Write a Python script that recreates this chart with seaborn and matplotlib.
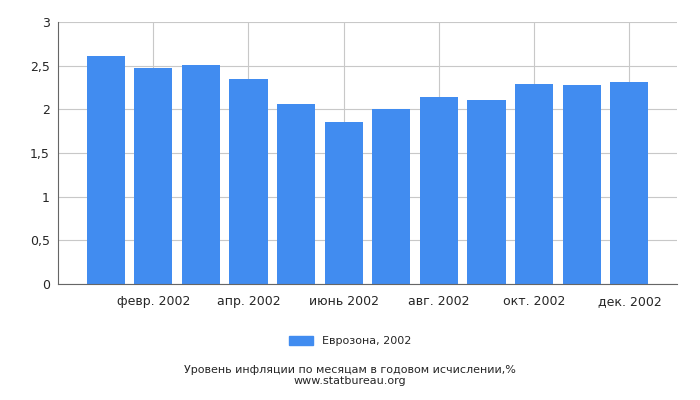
import matplotlib
matplotlib.use("Agg")
import matplotlib.pyplot as plt
import seaborn as sns
import pandas as pd

months = ["янв. 2002","февр. 2002","март 2002","апр. 2002","май 2002","июнь 2002",
          "июль 2002","авг. 2002","сент. 2002","окт. 2002","нояб. 2002","дек. 2002"]
values = [2.61, 2.47, 2.51, 2.35, 2.06, 1.86, 2.00, 2.14, 2.11, 2.29, 2.28, 2.31]
series = "Еврозона, 2002"
yticks = [0, 0.5, 1, 1.5, 2, 2.5, 3]
ylabels = ["0", "0,5", "1", "1,5", "2", "2,5", "3"]

sns.set_style("white")
plt.rcParams['font.family'] = ['DejaVu Sans']
fig = plt.figure(figsize=(7, 4), dpi=100)
ax = fig.add_axes([58/700, 1-284/400, (677-58)/700, (284-22)/400])
df = pd.DataFrame({"m": months, "v": values, "s": series})
sns.barplot(data=df, x="m", y="v", hue="s", palette=["#418cf0"], width=0.8,
            saturation=1, ax=ax, zorder=2, legend=False, linewidth=0, edgecolor="none")
ax.set_xlim(-1, 12)
ax.set_ylim(0, 3)
ax.set_yticks(yticks)
ax.set_yticklabels(ylabels, fontsize=9)
ax.set_xticks(range(1, 12, 2))
ax.set_xticklabels(months[1::2], fontsize=9)
ax.grid(True, color="#c8c8c8", linewidth=0.8, zorder=0)
ax.set_axisbelow(True)
ax.set_xlabel(""); ax.set_ylabel("")
for s in ["top", "right"]:
    ax.spines[s].set_visible(False)
for s in ["left", "bottom"]:
    ax.spines[s].set_color("#666666")
ax.tick_params(axis="y", length=4, color="#666666", pad=2)
ax.tick_params(axis="x", length=0, pad=8)
from matplotlib.patches import Patch
fig.legend(handles=[Patch(color="#418cf0", label=series)], loc="center",
           bbox_to_anchor=(0.5, 1-341/400), frameon=False, fontsize=8,
           handlelength=2.2, handleheight=0.9)
fig.text(0.5, 1-370/400, "Уровень инфляции по месяцам в годовом исчислении,%",
         ha="center", va="center", fontsize=8)
fig.text(0.5, 1-381.5/400, "www.statbureau.org", ha="center", va="center", fontsize=8)
fig.savefig("out.png", dpi=100)
